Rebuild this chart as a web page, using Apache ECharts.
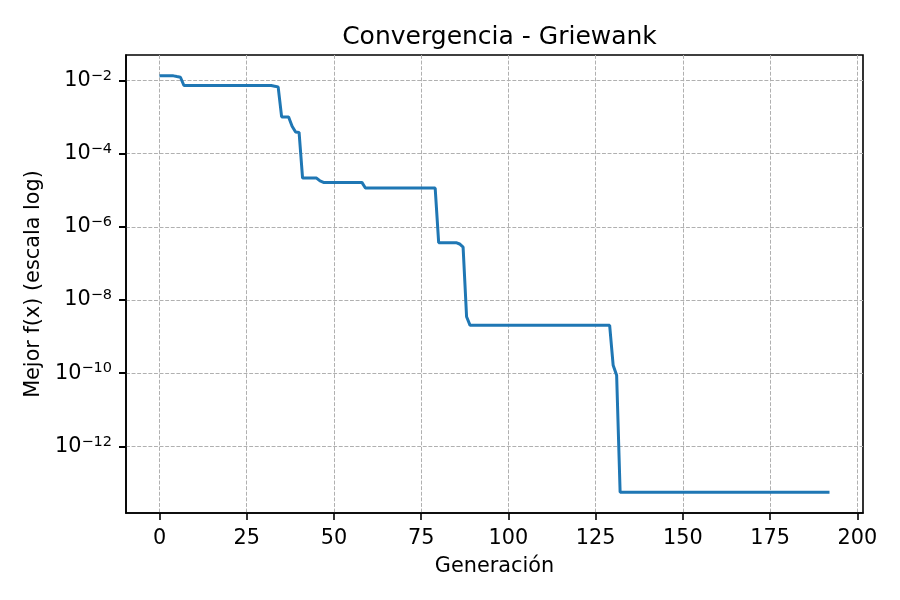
<!DOCTYPE html>
<html>
<head>
<meta charset="utf-8">
<script src="https://cdn.jsdelivr.net/npm/echarts@6/dist/echarts.min.js"></script>
<style>
  html, body { margin: 0; padding: 0; background: #fff; }
  #chart { width: 900px; height: 600px; }
</style>
</head>
<body>
<div id="chart"></div>
<script>
// Generation indices where the best value changes
var generations = [0, 4, 5, 6, 7, 32, 33, 34, 35, 37, 38, 39, 40, 41, 45, 46, 47, 58, 59, 79, 80, 85, 86, 87, 88, 89, 129, 130, 131, 132, 192];
// Best f(x) at those generations
var bestValues = [0.0134, 0.0134, 0.0128, 0.0123, 0.0073, 0.0073, 0.0070, 0.0067, 0.00101, 0.00101, 0.00056, 0.00039, 0.00038,
  2.16e-5, 2.16e-5, 1.8e-5, 1.64e-5, 1.64e-5, 1.15e-5, 1.15e-5, 3.7e-7, 3.7e-7, 3.4e-7, 2.8e-7, 3.5e-9, 2.03e-9, 2.03e-9,
  1.66e-10, 8.8e-11, 5.6e-14, 5.6e-14];
var xTicks = [0, 25, 50, 75, 100, 125, 150, 175, 200];
var yTicks = [1e-12, 1e-10, 1e-8, 1e-6, 1e-4, 1e-2];

var FONT = 'DejaVu Sans';
var gridColor = '#b0b0b0';
var Y_MIN = 1.51e-14, Y_MAX = 0.0498;
var chart = echarts.init(document.getElementById('chart'));

var seriesData = generations.map(function (g, i) { return [g, bestValues[i]]; });

chart.setOption({
  animation: false,
  backgroundColor: '#fff',
  title: {
    text: 'Convergencia - Griewank',
    left: 494.5,
    textAlign: 'center',
    top: 20,
    textStyle: { fontFamily: FONT, fontSize: 25, fontWeight: 'normal', color: '#000' }
  },
  grid: {
    left: 126, right: 37, top: 55, bottom: 87,
    show: true, borderColor: '#000', borderWidth: 1.6
  },
  xAxis: {
    type: 'value',
    min: -9.6, max: 201.6,
    name: 'Generación',
    nameLocation: 'middle',
    nameGap: 43,
    nameTextStyle: { fontFamily: FONT, fontSize: 20.8, color: '#000' },
    axisLine: { show: true, onZero: false, lineStyle: { color: '#000', width: 1.6 } },
    axisTick: { show: true, length: 7, customValues: xTicks, lineStyle: { color: '#000', width: 1.6 } },
    axisLabel: { customValues: xTicks, margin: 15, fontFamily: FONT, fontSize: 20.8, color: '#000' },
    splitLine: { show: true, lineStyle: { color: gridColor, width: 1, type: [3.9, 1.7] } }
  },
  yAxis: [{
    type: 'log',
    min: Y_MIN, max: Y_MAX,
    name: 'Mejor f(x) (escala log)',
    nameLocation: 'middle',
    nameGap: 81,
    nameTextStyle: { fontFamily: FONT, fontSize: 20.8, color: '#000' },
    axisLine: { show: true, onZero: false, lineStyle: { color: '#000', width: 1.6 } },
    axisTick: { show: true, customValues: yTicks, length: 7, lineStyle: { color: '#000', width: 1.8 } },
    axisLabel: {
      customValues: yTicks,
      margin: 14,
      formatter: function (v) {
        var e = Math.round(Math.log10(v));
        return '{b|10}{s|' + (e < 0 ? '\u2212' : '') + Math.abs(e) + '}';
      },
      rich: {
        b: { fontFamily: FONT, fontSize: 20.8, color: '#000', lineHeight: 24 },
        s: { fontFamily: FONT, fontSize: 14.5, color: '#000', lineHeight: 12, verticalAlign: 'top' }
      }
    },
    splitLine: { show: true, lineStyle: { color: gridColor, width: 1, type: [3.9, 1.7] } }
  }, {
    type: 'log',
    min: Y_MIN, max: Y_MAX,
    position: 'left',
    axisLine: { show: false, onZero: false },
    axisTick: { show: true, customValues: yTicks, length: 7, lineStyle: { color: '#000', width: 1.8 } },
    axisLabel: { show: true, customValues: yTicks, margin: 14, fontSize: 8, color: 'rgba(0,0,0,0)',
      formatter: function () { return '.'; } },
    splitLine: { show: false }
  }],
  series: [{
    type: 'line',
    data: seriesData,
    yAxisIndex: 0,
    showSymbol: false,
    lineStyle: { color: '#1f77b4', width: 3 },
    z: 5
  }]
});
</script>
</body>
</html>
